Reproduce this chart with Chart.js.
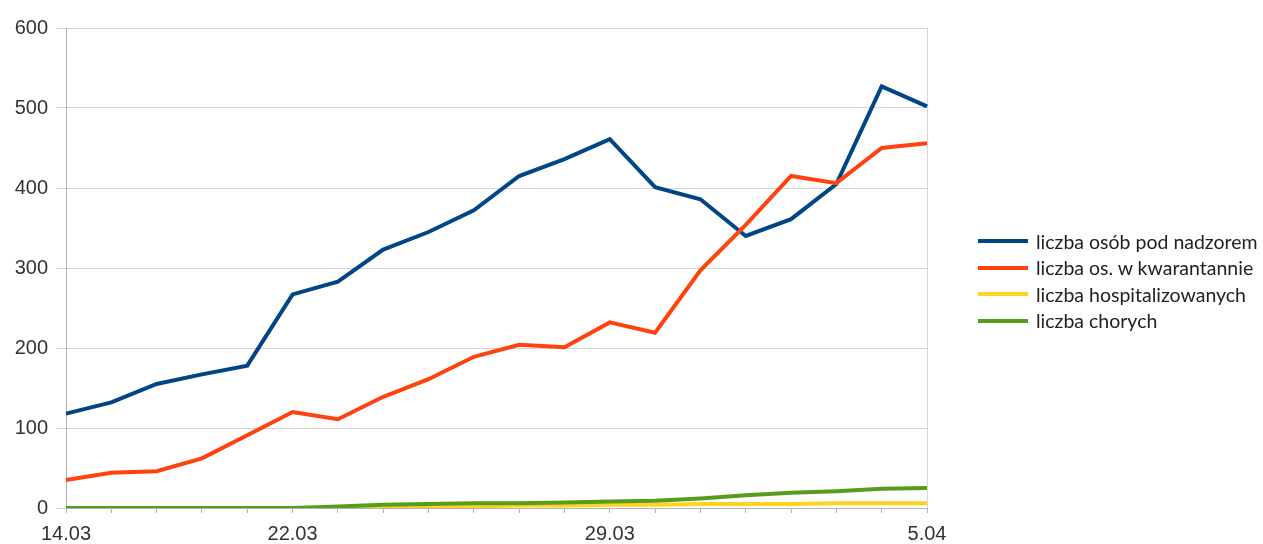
<!DOCTYPE html>
<html>
<head>
<meta charset="utf-8">
<script src="https://cdn.jsdelivr.net/npm/chart.js@4.4.1/dist/chart.umd.min.js"></script>
<style>
  html, body { margin: 0; padding: 0; background: #fff; }
  #wrap { position: relative; width: 1263px; height: 544px; }
  #legend { position: absolute; left: 978px; top: 228px; font-family: Lato, "Open Sans", sans-serif; font-size: 19.5px; color: #222; }
  .legend-row { display: flex; align-items: center; height: 26.5px; white-space: nowrap; }
  .legend-line { width: 50px; height: 4px; margin-right: 8px; }
</style>
</head>
<body>
<div id="wrap">
  <canvas id="chart" width="1263" height="544"></canvas>
  <div id="legend"></div>
</div>
<script>
const dates = ["14.03", "16.03", "17.03", "18.03", "20.03", "22.03", "23.03", "24.03", "25.03", "26.03",
  "27.03", "28.03", "29.03", "30.03", "31.03", "1.04", "2.04", "3.04", "4.04", "5.04"];
const shownTicks = ["14.03", "22.03", "29.03", "5.04"];
const yTicks = [0, 100, 200, 300, 400, 500, 600];

const nadzor = [118, 132, 155, 167, 178, 267, 283, 323, 345, 372, 415, 436, 461, 401, 386, 340, 361, 405, 527, 502];
const kwarantanna = [35, 44, 46, 62, 91, 120, 111, 139, 161, 189, 204, 201, 232, 219, 297, 354, 415, 406, 450, 456];
const hospitalizowani = [0, 0, 0, 0, 0, 0, 0, 1, 1, 2, 3, 3, 4, 4, 5, 5, 5, 6, 6, 6];
const chorzy = [0, 0, 0, 0, 0, 0, 2, 4, 5, 6, 6, 7, 8, 9, 12, 16, 19, 21, 24, 25];

const series = [
  { label: "liczba osób pod nadzorem", data: nadzor, color: "#004586", order: 3 },
  { label: "liczba os. w kwarantannie", data: kwarantanna, color: "#ff420e", order: 2 },
  { label: "liczba hospitalizowanych", data: hospitalizowani, color: "#ffd320", order: 1 },
  { label: "liczba chorych", data: chorzy, color: "#579d1c", order: 0 },
];

const gridColor = "#d6d6d6";
const axisColor = "#b3b3b3";
const tickFont = { family: "'Liberation Sans', Arial, sans-serif", size: 20, lineHeight: 1 };
const last = dates.length - 1;

new Chart(document.getElementById("chart").getContext("2d"), {
  type: "line",
  data: {
    labels: dates,
    datasets: series.map((s) => ({
      label: s.label,
      data: s.data,
      borderColor: s.color,
      backgroundColor: s.color,
      borderWidth: 4,
      pointRadius: 0,
      tension: 0,
      order: s.order,
    })),
  },
  options: {
    responsive: false,
    animation: false,
    devicePixelRatio: 1,
    layout: { padding: { top: 28, right: 336, bottom: 0, left: 0 } },
    plugins: { legend: { display: false }, tooltip: { enabled: false } },
    scales: {
      x: {
        offset: false,
        afterFit: (s) => { s.height = 36; },
        grid: { color: (ctx) => (ctx.index === last ? gridColor : "transparent"), tickColor: axisColor, tickLength: 5 },
        border: { color: axisColor },
        ticks: {
          autoSkip: false,
          maxRotation: 0,
          padding: 11,
          color: "#333",
          font: tickFont,
          callback: function (v) {
            const l = this.getLabelForValue(v);
            return shownTicks.includes(l) ? l : "";
          },
        },
      },
      y: {
        min: yTicks[0],
        max: yTicks[yTicks.length - 1],
        afterBuildTicks: (s) => { s.ticks = yTicks.map((v) => ({ value: v })); },
        afterFit: (s) => { s.width = 66; },
        grid: { color: gridColor, tickLength: 10 },
        border: { color: axisColor },
        ticks: { padding: 8, color: "#333", font: tickFont },
      },
    },
  },
});

document.getElementById("legend").innerHTML = series
  .map(
    (s) => `
  <div class="legend-row"><span class="legend-line" style="background:${s.color}"></span>${s.label}</div>`
  )
  .join("");
</script>
</body>
</html>
